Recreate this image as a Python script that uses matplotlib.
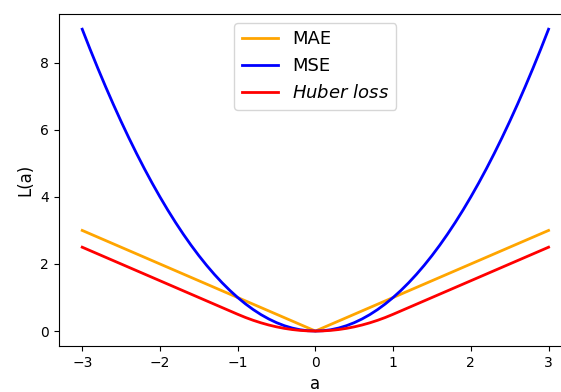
import matplotlib
matplotlib.use('agg')
import matplotlib.pyplot as plt

# residuals a and the loss values at each one
a_vals = [-3.0, -2.9, -2.8, -2.7, -2.6, -2.5, -2.4, -2.3, -2.2, -2.1,
          -2.0, -1.9, -1.8, -1.7, -1.6, -1.5, -1.4, -1.3, -1.2, -1.1,
          -1.0, -0.9, -0.8, -0.7, -0.6, -0.5, -0.4, -0.3, -0.2, -0.1,
          0.0, 0.1, 0.2, 0.3, 0.4, 0.5, 0.6, 0.7, 0.8, 0.9,
          1.0, 1.1, 1.2, 1.3, 1.4, 1.5, 1.6, 1.7, 1.8, 1.9,
          2.0, 2.1, 2.2, 2.3, 2.4, 2.5, 2.6, 2.7, 2.8, 2.9, 3.0]
mae_vals = [3.0, 2.9, 2.8, 2.7, 2.6, 2.5, 2.4, 2.3, 2.2, 2.1,
            2.0, 1.9, 1.8, 1.7, 1.6, 1.5, 1.4, 1.3, 1.2, 1.1,
            1.0, 0.9, 0.8, 0.7, 0.6, 0.5, 0.4, 0.3, 0.2, 0.1,
            0.0, 0.1, 0.2, 0.3, 0.4, 0.5, 0.6, 0.7, 0.8, 0.9,
            1.0, 1.1, 1.2, 1.3, 1.4, 1.5, 1.6, 1.7, 1.8, 1.9,
            2.0, 2.1, 2.2, 2.3, 2.4, 2.5, 2.6, 2.7, 2.8, 2.9, 3.0]
mse_vals = [9.0, 8.41, 7.84, 7.29, 6.76, 6.25, 5.76, 5.29, 4.84, 4.41,
            4.0, 3.61, 3.24, 2.89, 2.56, 2.25, 1.96, 1.69, 1.44, 1.21,
            1.0, 0.81, 0.64, 0.49, 0.36, 0.25, 0.16, 0.09, 0.04, 0.01,
            0.0, 0.01, 0.04, 0.09, 0.16, 0.25, 0.36, 0.49, 0.64, 0.81,
            1.0, 1.21, 1.44, 1.69, 1.96, 2.25, 2.56, 2.89, 3.24, 3.61,
            4.0, 4.41, 4.84, 5.29, 5.76, 6.25, 6.76, 7.29, 7.84, 8.41, 9.0]
huber_vals = [2.5, 2.4, 2.3, 2.2, 2.1, 2.0, 1.9, 1.8, 1.7, 1.6,
              1.5, 1.4, 1.3, 1.2, 1.1, 1.0, 0.9, 0.8, 0.7, 0.6,
              0.5, 0.405, 0.32, 0.245, 0.18, 0.125, 0.08, 0.045, 0.02, 0.005,
              0.0, 0.005, 0.02, 0.045, 0.08, 0.125, 0.18, 0.245, 0.32, 0.405,
              0.5, 0.6, 0.7, 0.8, 0.9, 1.0, 1.1, 1.2, 1.3, 1.4,
              1.5, 1.6, 1.7, 1.8, 1.9, 2.0, 2.1, 2.2, 2.3, 2.4, 2.5]

fig = plt.figure(figsize=(5.61, 3.92), dpi=100)
# axes run slightly past the right edge of the canvas
ax = fig.add_axes([0.105, 0.117, 0.9144, 0.847])

ax.plot(a_vals, mae_vals, color='orange', lw=2, label='MAE')
ax.plot(a_vals, mse_vals, color='blue', lw=2, label='MSE')
ax.plot(a_vals, huber_vals, color='red', lw=2, label='$Huber\\ loss$')

ax.spines['right'].set_visible(False)
ax.set_xlabel('a', fontsize=12)
ax.set_ylabel('L(a)', fontsize=12)
ax.tick_params(labelsize=10)
ax.legend(loc='upper center', fontsize=13)

plt.savefig('out.png', dpi=100)
plt.close('all')
